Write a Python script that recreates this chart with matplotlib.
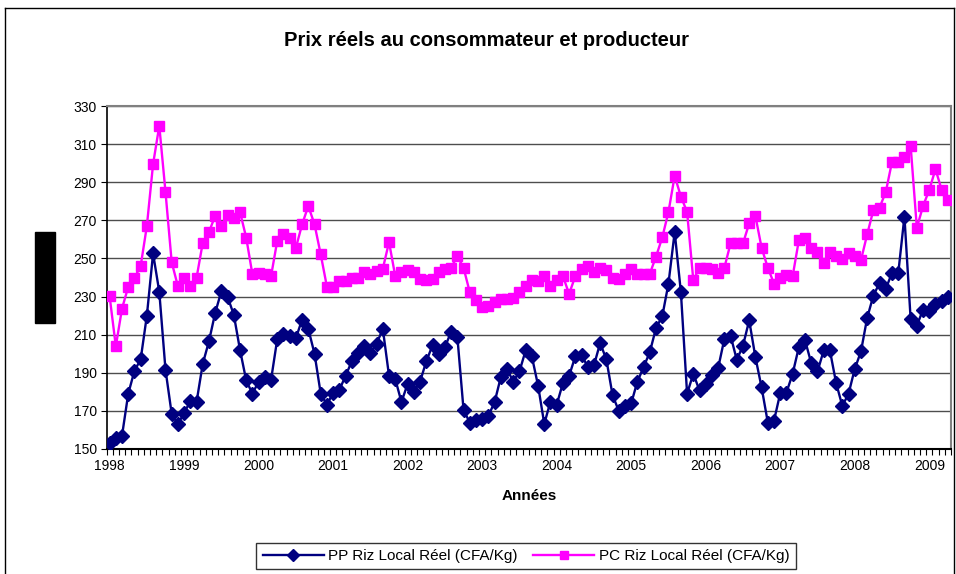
import numpy as np
import matplotlib
matplotlib.use('Agg')
import matplotlib.pyplot as plt
from matplotlib.patches import Rectangle
from matplotlib.lines import Line2D

NAVY = '#000080'
MAGENTA = '#ff00ff'
GRID = '#4d4d4d'

plt.rcParams['font.family'] = ['Liberation Sans', 'DejaVu Sans']

# monthly values, Jan 1998 -> Apr 2009
pp = [153, 155.6, 157, 179, 191, 197, 220, 252.6, 232.5, 191.6, 168.4, 163,
      169, 175, 174.6, 194.7, 206.5, 221.4, 232.8, 229.8, 220.5, 202, 186, 179,
      185.4, 188, 186.3, 207.7, 210.3, 209.5, 208.2, 217.9, 213, 200, 179, 173.2,
      179.6, 181, 188.4, 196, 200.4, 203.9, 200.4, 205.3, 213, 188.4, 186.7, 174.7,
      184.2, 180, 185.4, 196, 204.4, 200, 203.5, 211.5, 209, 170.5, 163.9, 165.3,
      166, 167.4, 174.6, 187.7, 192, 185.4, 190.7, 201.7, 198.6, 183.3, 163.2, 174.9,
      173.2, 184.6, 188.4, 198.6, 199.5, 193, 193.9, 205.6, 197, 178.2, 170, 172.5,
      174, 185.4, 193, 200.9, 213.5, 219.6, 236.8, 263.9, 232.3, 179, 189.5, 180.7,
      184, 189, 192.5, 207.7, 209.5, 196.8, 204.2, 217.5, 198.2, 182.3, 163.9, 164.9,
      179.3, 179.6, 189.5, 203.5, 207, 195, 190.7, 201.7, 201.7, 184.6, 172.6, 179,
      192, 201.2, 218.8, 230.5, 237.2, 234, 242.5, 242.1, 272, 218.2, 214.7, 223.2,
      222.3, 226.3, 227.5, 229.8]

pc = [230.2, 203.9, 223.7, 235.1, 239.8, 246, 267, 299.5, 319.6, 284.9, 248, 235.4,
      239.8, 235.4, 239.8, 258.2, 263.9, 272.3, 267, 272.6, 271.4, 274.4, 260.9, 241.6,
      242.1, 241.6, 240.7, 259.3, 262.6, 260.9, 255.6, 267.9, 277.5, 267.9, 252.1, 235.1,
      235.1, 238.4, 238.4, 239.5, 239.5, 242.8, 241.6, 243.3, 244.6, 258.6, 240.7, 242.8,
      243.9, 242.8, 239.3, 238.6, 239, 242.8, 244.6, 245.1, 251.2, 245.1, 232.3, 228,
      224.6, 225.3, 227, 228.8, 228.8, 229.3, 232.3, 235.4, 238.9, 238, 240.7, 235.8,
      238.9, 240.7, 231.4, 240.7, 244.2, 246, 242.8, 245.1, 244, 240, 239, 242,
      244.5, 242, 242, 242, 251, 261, 274.4, 293.3, 282.5, 274.4, 238.6, 245.1,
      245.1, 244.2, 242.1, 245.1, 257.9, 257.9, 257.9, 268.4, 272.3, 255.6, 245.1, 236.8,
      239.8, 241.5, 240.7, 259.6, 260.9, 255.6, 253.3, 247.7, 253.3, 251.2, 249.5, 252.6,
      251.2, 249.1, 262.6, 275.4, 276.7, 284.9, 300.7, 300.7, 303, 309.1, 266.1, 277.5,
      286, 296.8, 286, 280.7]

years = [str(y) for y in range(1998, 2010)]
months = np.arange(len(pp))

fig = plt.figure(figsize=(9.56, 5.74), dpi=100)
ax = fig.add_axes([106.5 / 956, 1 - 449 / 574, (951 - 106.5) / 956, (449 - 106) / 574])

ax.plot(months, pp, color=NAVY, lw=1.7, marker='D', ms=7.5, mfc=NAVY, mec=NAVY,
        label='PP Riz Local Réel (CFA/Kg)', zorder=3)
ax.plot(months, pc, color=MAGENTA, lw=1.7, marker='s', ms=7, mfc=MAGENTA, mec=MAGENTA,
        label='PC Riz Local Réel (CFA/Kg)', zorder=3)

ax.set_xlim(-0.5, len(pp) - 0.5)
ax.set_ylim(150, 330)
ax.set_yticks(np.arange(150, 331, 20))
ax.yaxis.grid(True, color=GRID, lw=1)
ax.set_axisbelow(True)

ax.set_xticks(np.arange(0, len(pp), 12))
ax.set_xticklabels(years)
ax.set_xticks(np.arange(-0.5, len(pp), 1), minor=True)
ax.tick_params(axis='x', which='major', length=0, pad=7, labelsize=10)
ax.tick_params(axis='x', which='minor', length=4, width=0.8, direction='out')
ax.tick_params(axis='y', length=4, width=0.8, direction='out', labelsize=10, pad=3)

for s in ['top', 'right']:
    ax.spines[s].set_color('#808080')
    ax.spines[s].set_linewidth(1.5)
ax.spines['left'].set_linewidth(1.2)
ax.spines['bottom'].set_linewidth(1.5)

ax.set_xlabel('Années', fontsize=11, fontweight='bold', labelpad=12)
fig.text(486 / 956, 1 - 40 / 574, 'Prix réels au consommateur et producteur',
         ha='center', va='center', fontsize=14.5, fontweight='bold')

# outer chart frame
fig.add_artist(Line2D([5 / 956, 5 / 956], [0, 1 - 7.5 / 574], transform=fig.transFigure, color='black', lw=1))
fig.add_artist(Line2D([5 / 956, 954 / 956], [1 - 7.5 / 574, 1 - 7.5 / 574], transform=fig.transFigure, color='black', lw=1))
fig.add_artist(Line2D([954 / 956, 954 / 956], [0, 1 - 7.5 / 574], transform=fig.transFigure, color='black', lw=1))

# black block over the y label
fig.add_artist(Rectangle((35 / 956, 1 - 323 / 574), 20 / 956, 91 / 574,
                         transform=fig.transFigure, color='black'))

leg = fig.legend(loc='center', bbox_to_anchor=(526 / 956, 1 - 556 / 574), ncol=2,
                 frameon=True, fancybox=False, edgecolor='black', fontsize=11,
                 handlelength=4, columnspacing=1.0, handletextpad=0.3,
                 borderpad=0.4, borderaxespad=0, markerscale=0.8)
leg.get_frame().set_linewidth(1)

fig.savefig('out.png', dpi=100)
